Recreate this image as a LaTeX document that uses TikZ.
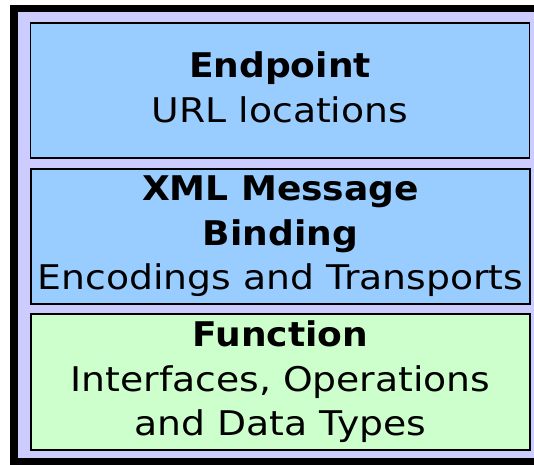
\documentclass[tikz,border=0pt]{standalone}
\usepackage{fontspec}
\setmainfont{DejaVu Sans}[FakeStretch = 1.11, BoldFeatures = {FakeStretch = 1.06}]
\usepackage{tikz}

\definecolor{lavender}{RGB}{204,204,255}
\definecolor{skyblue}{RGB}{153,204,255}
\definecolor{palegreen}{RGB}{204,255,204}

\tikzset{
	layer/.style = {draw, line width = 1.5bp, minimum width = 499bp, minimum height = 135bp,
		inner sep = 0pt, align = center, font = \fontsize{34bp}{44.5bp}\selectfont},
}

\begin{document}
\begin{tikzpicture}[x = 1bp, y = -1bp]
	\fill [white] (0,0) rectangle (534,465);
	% frame, open to the right
	\fill [black] (10,5) rectangle (534,465);
	\fill [lavender] (18,12) rectangle (534,458);
	\node [layer, fill = skyblue] (endpoint) at (280,90.5) {\textbf{Endpoint}\\URL locations\vphantom{y}};
	\node [layer, fill = skyblue] (binding) at (280.5,236.5) {\textbf{XML Message}\\\textbf{Binding}\\Encodings and Transports};
	\node [layer, fill = palegreen, minimum height = 136bp] (function) at (280.5,382) {\textbf{Function}\\Interfaces, Operations\\and Data Types};
\end{tikzpicture}
\end{document}
